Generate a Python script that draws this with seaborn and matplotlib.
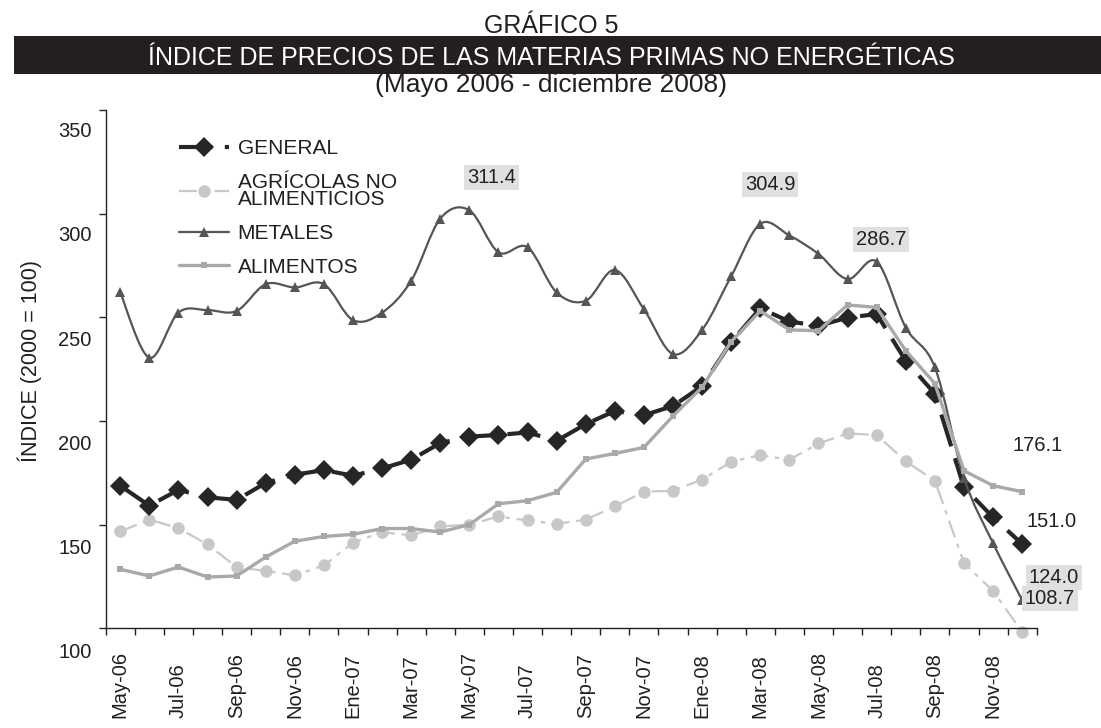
import numpy as np
import pandas as pd
import matplotlib
matplotlib.use("Agg")
import matplotlib.pyplot as plt
from matplotlib.path import Path
from matplotlib.patches import PathPatch, Rectangle
from matplotlib.lines import Line2D
import seaborn as sns

# Data
months = ["May-06", "Jun-06", "Jul-06", "Ago-06", "Sep-06", "Oct-06", "Nov-06", "Dic-06",
          "Ene-07", "Feb-07", "Mar-07", "Abr-07", "May-07", "Jun-07", "Jul-07", "Ago-07",
          "Sep-07", "Oct-07", "Nov-07", "Dic-07",
          "Ene-08", "Feb-08", "Mar-08", "Abr-08", "May-08", "Jun-08", "Jul-08", "Ago-08",
          "Sep-08", "Oct-08", "Nov-08", "Dic-08"]

general = [179.0, 169.4, 177.0, 173.4, 172.2, 180.3, 184.3, 186.5, 183.8, 187.3, 191.5,
           199.5, 202.6, 203.4, 204.6, 200.6, 208.6, 214.9, 212.9, 217.3, 226.9, 248.1,
           264.3, 257.9, 255.9, 259.8, 261.5, 239.0, 223.2, 178.2, 163.8, 151.0]
agricolas = [157.0, 162.7, 158.6, 150.8, 139.9, 138.0, 135.9, 140.7, 151.6, 156.7, 155.1,
             159.4, 160.3, 164.2, 162.3, 160.7, 162.7, 169.0, 176.1, 176.6, 181.9, 190.5,
             193.7, 191.5, 199.3, 204.1, 203.4, 190.7, 181.4, 141.8, 128.4, 108.7]
metales = [271.9, 240.5, 262.2, 263.4, 263.0, 275.9, 274.3, 275.9, 258.6, 262.2, 277.5,
           307.4, 311.4, 291.2, 293.6, 271.9, 267.9, 282.7, 263.8, 242.3, 253.9, 279.7,
           304.9, 299.3, 290.4, 278.3, 286.7, 255.0, 235.9, 182.7, 151.4, 124.0]
alimentos = [138.8, 135.6, 139.9, 135.1, 135.6, 144.7, 152.3, 154.6, 155.6, 158.4, 158.4,
             156.7, 160.3, 170.3, 171.8, 175.8, 191.8, 194.5, 197.4, 212.5, 226.3, 248.3,
             263.0, 253.9, 253.5, 265.9, 264.7, 243.9, 228.1, 186.2, 179.0, 176.1]

series_names = ["GENERAL", "AGRÍCOLAS NO\nALIMENTICIOS", "METALES", "ALIMENTOS"]
y_ticks = [100, 150, 200, 250, 300, 350]

df = pd.DataFrame({"mes": np.arange(len(months)), "general": general,
                   "agricolas": agricolas, "metales": metales, "alimentos": alimentos})

# Style
sns.set_style("ticks")
plt.rcParams["font.family"] = ["Liberation Sans", "DejaVu Sans"]
txt = "#231f20"
c_gen, c_agr, c_met, c_ali = "#262626", "#c8c8c8", "#555555", "#a9a9a9"

fig = plt.figure(figsize=(11.01, 7.28), dpi=100)
ax = fig.add_axes([0.0960, 0.1071, 0.8456, 0.7415])

# GENERAL - thick long-dash with diamonds
sns.lineplot(data=df, x="mes", y="general", ax=ax, color=c_gen, lw=3.0,
             linestyle=(0, (8, 3)), marker="D", markersize=10, markeredgewidth=0, zorder=3)
# AGRICOLAS - light grey long-dash-dot with circles
sns.lineplot(data=df, x="mes", y="agricolas", ax=ax, color=c_agr, lw=1.6,
             linestyle=(0, (8, 3, 2, 3)), marker="o", markersize=9, markeredgewidth=0, zorder=2)
# METALES - smoothed line with triangles
n = len(df)
mx = df["mes"].to_numpy(float)
my = df["metales"].to_numpy(float)
verts = [(mx[0], my[0])]
codes = [Path.MOVETO]
for i in range(n - 1):
    a, b = max(i - 1, 0), min(i + 2, n - 1)
    c1 = (mx[i] + (mx[i + 1] - mx[a]) / 6, my[i] + (my[i + 1] - my[a]) / 6)
    c2 = (mx[i + 1] - (mx[b] - mx[i]) / 6, my[i + 1] - (my[b] - my[i]) / 6)
    verts += [c1, c2, (mx[i + 1], my[i + 1])]
    codes += [Path.CURVE4] * 3
ax.add_patch(PathPatch(Path(verts, codes), fill=False, edgecolor=c_met, lw=1.6, zorder=4))
sns.lineplot(data=df, x="mes", y="metales", ax=ax, color=c_met, linestyle="none",
             marker="^", markersize=7, markeredgewidth=0, zorder=4)
# ALIMENTOS - solid grey with small squares
sns.lineplot(data=df, x="mes", y="alimentos", ax=ax, color=c_ali, lw=2.4,
             marker="s", markersize=4.5, markeredgewidth=0, zorder=5)

# Axes
ax.set_xlim(-0.5, n - 0.5)
ax.set_ylim(100, 359.5)
sns.despine(ax=ax)
ax.spines["bottom"].set_position(("data", 110.5))
ax.spines["left"].set_bounds(110.5, 359.5)
for s in ["left", "bottom"]:
    ax.spines[s].set_color(txt)
    ax.spines[s].set_linewidth(1.0)

ax.set_xticks(np.arange(0, n, 2))
ax.set_xticklabels(months[::2], rotation=90, rotation_mode="anchor", ha="left", va="center")
ax.set_xticks(np.arange(-0.5, n, 1), minor=True)
ax.set_yticks(y_ticks)
ax.set_yticklabels([str(v) for v in y_ticks])
ax.set_yticks(np.linspace(110.5, 359.5, 6), minor=True)
ax.tick_params(axis="x", which="major", length=0, pad=65, labelsize=14.5, labelcolor=txt)
ax.tick_params(axis="y", which="major", length=0, pad=10, labelsize=14.5, labelcolor=txt)
ax.tick_params(which="minor", length=5, width=1.0, color=txt, direction="out")
ax.set_xlabel("")
ax.set_ylabel("ÍNDICE (2000 = 100)", fontsize=15.5, color=txt)
ax.yaxis.set_label_coords(-0.068, 0.535)

# Data labels
box = dict(boxstyle="square,pad=0.15", facecolor="#e0e0e0", edgecolor="none")
labels = [
    (12, metales[12], "311.4", (16, 23.6), box),
    (22, metales[22], "304.9", (7, 28.4), box),
    (26, metales[26], "286.7", (3, 16), box),
    (31, alimentos[31], "176.1", (11, 33.5), None),
    (31, general[31], "151.0", (21, 16.4), None),
    (31, metales[31], "124.0", (23, 16.5), box),
    (31, agricolas[31], "108.7", (20, 24.4), box),
]
for xi, yi, s, off, bb in labels:
    ax.annotate(s, (xi, yi), xytext=off, textcoords="offset points", ha="center",
                va="center", fontsize=14.5, color=txt, bbox=bb, zorder=6,
                annotation_clip=False)

# Legend
handles = [
    Line2D([], [], color=c_gen, lw=3.0, linestyle=(0, (8, 3)), marker="D", markersize=10, markeredgewidth=0),
    Line2D([], [], color=c_agr, lw=1.6, linestyle=(0, (8, 3, 2, 3)), marker="o", markersize=9, markeredgewidth=0),
    Line2D([], [], color=c_met, lw=1.6, marker="^", markersize=7, markeredgewidth=0),
    Line2D([], [], color=c_ali, lw=2.4, marker="s", markersize=4.5, markeredgewidth=0),
]
leg = ax.legend(handles, series_names, loc="upper left", bbox_to_anchor=(0.0787, 0.946),
                frameon=False, fontsize=15, handlelength=2.4, handletextpad=0.42,
                labelspacing=0.7, borderpad=0, borderaxespad=0)
for t in leg.get_texts():
    t.set_color(txt)
    t.set_linespacing(0.9)

# Titles
fig.text(0.5005, 0.9547, "GRÁFICO 5", ha="center", va="baseline", fontsize=18, color=txt)
fig.patches.append(Rectangle((14 / 1101, 0.8984), 1 - 14 / 1101, 0.0522,
                             transform=fig.transFigure, facecolor=txt, edgecolor="none"))
fig.text(0.5005, 0.9107, "ÍNDICE DE PRECIOS DE LAS MATERIAS PRIMAS NO ENERGÉTICAS",
         ha="center", va="baseline", fontsize=18, color="white")
fig.text(0.5005, 0.874, "(Mayo 2006 - diciembre 2008)", ha="center", va="baseline",
         fontsize=19, color=txt)

fig.savefig("out.png", dpi=100)
